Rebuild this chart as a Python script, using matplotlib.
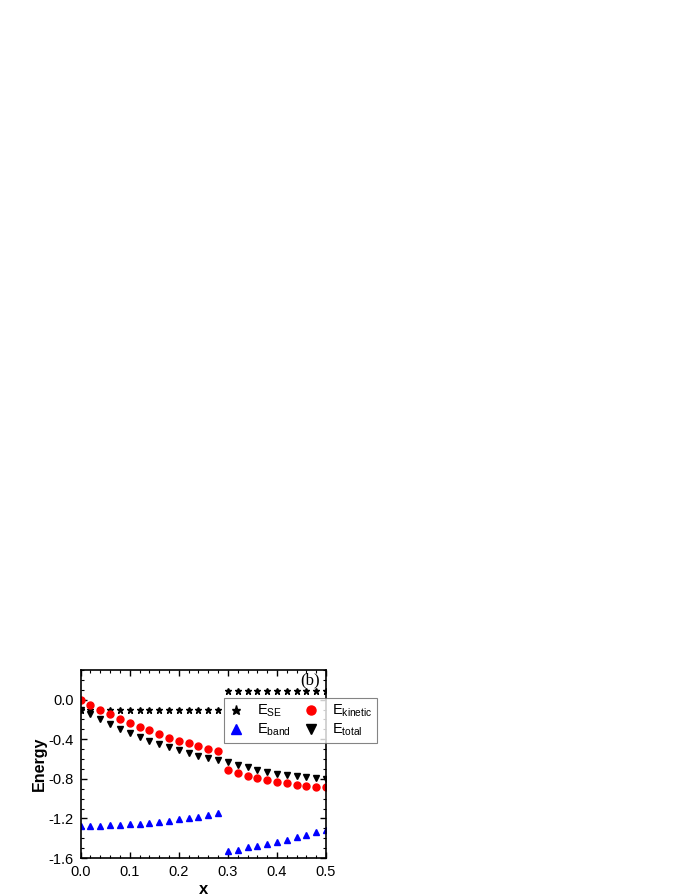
import numpy as np
import matplotlib
matplotlib.use('Agg')
import matplotlib.pyplot as plt
from matplotlib.ticker import MultipleLocator

plt.rcParams['font.family'] = ['Liberation Sans', 'DejaVu Sans']
plt.rcParams['mathtext.fontset'] = 'custom'
plt.rcParams['mathtext.rm'] = 'Liberation Sans'
plt.rcParams['mathtext.it'] = 'Liberation Sans'

# data
x_left = [0.00, 0.02, 0.04, 0.06, 0.08, 0.10, 0.12, 0.14, 0.16, 0.18, 0.20, 0.22, 0.24, 0.26, 0.28]
x_right = [0.30, 0.32, 0.34, 0.36, 0.38, 0.40, 0.42, 0.44, 0.46, 0.48, 0.50]

e_se_left = [-0.10] * 15
e_se_right = [0.085] * 11

e_kin_left = [0.0, -0.054, -0.105, -0.145, -0.196, -0.233, -0.274, -0.311, -0.348, -0.382,
              -0.413, -0.44, -0.467, -0.494, -0.514]
e_kin_right = [-0.71, -0.741, -0.768, -0.79, -0.812, -0.829, -0.846, -0.86, -0.873, -0.88, -0.886]

e_tot_left = [-0.10, -0.145, -0.196, -0.244, -0.291, -0.335, -0.379, -0.416, -0.45, -0.48,
              -0.51, -0.538, -0.565, -0.589, -0.612]
e_tot_right = [-0.63, -0.66, -0.683, -0.707, -0.727, -0.748, -0.761, -0.775, -0.785, -0.792, -0.798]

e_band_left = [-1.275, -1.275, -1.272, -1.269, -1.265, -1.258, -1.252, -1.245, -1.235, -1.221,
               -1.208, -1.194, -1.181, -1.167, -1.15]
e_band_right = [-1.529, -1.516, -1.492, -1.475, -1.458, -1.438, -1.417, -1.39, -1.363, -1.34, -1.312]

x_all = x_left + x_right

fig = plt.figure(figsize=(6.92, 8.96), dpi=100)
ax = fig.add_axes([0.1166, 0.0424, 0.3545, 0.2098])

ax.plot(x_all, e_se_left + e_se_right, linestyle='none', marker='*', color='black',
        markersize=5, label=r'E$_{\mathrm{SE}}$')
ax.plot(x_all, e_kin_left + e_kin_right, linestyle='none', marker='o', color='red',
        markeredgecolor='red', markersize=5, label=r'E$_{\mathrm{kinetic}}$')
ax.plot(x_all, e_band_left + e_band_right, linestyle='none', marker='^', color='blue',
        markersize=5, label=r'E$_{\mathrm{band}}$')
ax.plot(x_all, e_tot_left + e_tot_right, linestyle='none', marker='v', color='black',
        markersize=5, label=r'E$_{\mathrm{total}}$')

ax.set_xlim(0, 0.5)
ax.set_ylim(-1.6, 0.3)
ax.xaxis.set_major_locator(MultipleLocator(0.1))
ax.xaxis.set_minor_locator(MultipleLocator(0.02))
ax.yaxis.set_minor_locator(MultipleLocator(0.1))
ax.set_yticks([-1.6, -1.2, -0.8, -0.4, 0.0])
ax.set_yticklabels(['-1.6', '-1.2', '-0.8', '-0.4', '0.0'])
ax.tick_params(which='both', direction='in', top=True, right=True, labelsize=10.5)
ax.tick_params(which='major', length=4.5, width=1, pad=5)
ax.tick_params(which='minor', length=2.5, width=0.8)
for s in ax.spines.values():
    s.set_linewidth(1.2)

ax.set_xlabel('x', fontsize=12, fontweight='bold', labelpad=2)
ax.set_ylabel('Energy', fontsize=11.5, fontweight='bold', labelpad=1)

ax.text(0.975, 0.947, '(b)', transform=ax.transAxes, ha='right', va='center',
        fontsize=12, family=['Liberation Serif', 'DejaVu Serif'])

handles, labels = ax.get_legend_handles_labels()
order = [0, 2, 1, 3]
leg = fig.legend([handles[i] for i in order], [labels[i] for i in order],
                 loc='upper left', bbox_to_anchor=(0.3237, 0.221), ncol=2,
                 borderaxespad=0, fontsize=10.5, frameon=True, fancybox=False,
                 edgecolor='#666666', handlelength=1.0, handletextpad=0.9,
                 columnspacing=0.9, labelspacing=0.15, borderpad=0.35, markerscale=1.3)
leg.get_frame().set_linewidth(0.8)

fig.savefig('out.png', dpi=100)
